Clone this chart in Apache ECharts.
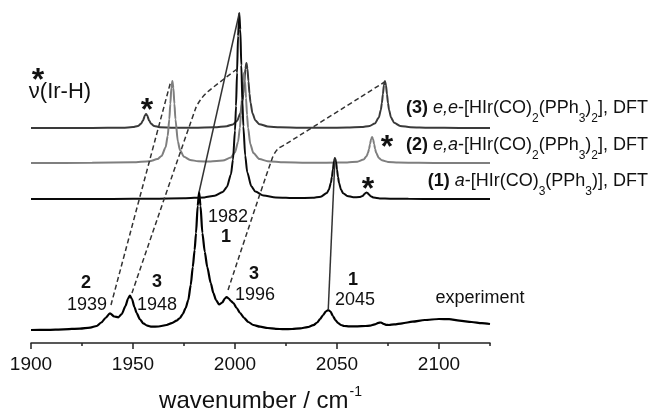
<!DOCTYPE html>
<html>
<head>
<meta charset="utf-8">
<script src="https://cdn.jsdelivr.net/npm/echarts@6/dist/echarts.min.js"></script>
<style>
  html, body { margin: 0; padding: 0; background: #fff; }
  #chart { width: 654px; height: 410px; }
</style>
</head>
<body>
<div id="chart"></div>
<script>
const FONT = '"Liberation Sans", Arial, sans-serif';

// IR traces: [wavenumber / cm-1, intensity above the trace's own baseline (arb. units)]
const experiment = [
  [1900,0],[1908,0.2],[1916,0.7],[1924,1.4],[1929,2.4],[1932.2,4],[1934.5,7.5],[1936.5,12],
  [1938.7,16.7],[1940.8,13.5],[1942.8,12.7],[1944.5,16],[1946.3,24],[1947.6,31.5],[1948.5,34.3],
  [1949.5,31],[1950.7,23],[1951.8,17],[1953.3,11],[1955,6.7],[1957,4.3],[1959.2,3.3],[1962.5,3.5],
  [1966.5,5],[1969,6.8],[1971.4,9.3],[1973,12],[1974.4,16],[1975.8,22],[1977.1,30],[1978.3,45],
  [1979.3,63],[1980.2,80],[1980.9,97],[1981.7,124],[1982.4,138],[1983.1,124],[1984.0,97],
  [1985.2,78],[1986.4,63],[1988.1,47],[1989.4,37],[1990.7,30],[1992.2,25.5],[1993.8,27.5],
  [1995.0,31.5],[1995.9,33],[1996.9,31.5],[1998,29],[1999.2,27],[2000.8,22],[2002.5,17],
  [2004.5,12],[2006.5,8],[2009,5],[2012.3,3.3],[2016,2],[2020,1.2],[2024,0.8],[2028,1],
  [2032,1.6],[2035.5,2.8],[2038.4,4.8],[2040.3,7.5],[2041.7,11],[2043.2,15],[2044.5,18.5],
  [2045.7,20],[2046.8,18.5],[2048,14],[2049.2,10],[2050.5,7],[2052,5],[2053.5,4],[2056,3.6],
  [2060,3.7],[2064,4],[2066.2,4.3],[2068.5,5.6],[2070.3,7.2],[2071.6,7.5],[2072.8,6.2],
  [2074,5.2],[2075.5,5],[2078,5.6],[2082,6.7],[2087,8.3],[2093,10],[2100,11],[2105,10.8],
  [2110,9.4],[2116,8],[2121,6.8],[2125,6]
];

// (1) a-[HIr(CO)3(PPh3)], DFT
const dft1 = [
  [1900,0],[1940,0.1],[1960,0.3],[1975,0.7],[1985,1.6],[1990,3.2],[1994,7.0],[1996,12.0],
  [1998,24.6],[1999,39.2],[2000,68.4],[2000.5,93],[2001,126.3],[2001.5,163.1],[2002.1,186],
  [2002.6,169.4],[2003.1,133.8],[2003.6,99.0],[2004.1,72.5],[2005,43.4],[2006,26.8],[2008,12.7],
  [2010,7.4],[2014,3.4],[2020,1.6],[2030,0.9],[2038,1.2],[2042,2.3],[2045,5.9],[2046,9.3],
  [2047,16.2],[2047.5,22.0],[2048,29.7],[2048.5,37.6],[2049,41],[2049.5,37.5],[2050,29.6],
  [2050.5,21.9],[2051,16.1],[2052,9.2],[2053,5.8],[2055,3.1],[2058,1.75],[2061,1.9],[2062.5,3.0],
  [2063.5,4.9],[2064,6.0],[2064.5,6.5],[2065,6.0],[2065.5,4.8],[2066.5,2.8],[2068,1.4],[2071,0.6],
  [2076,0.3],[2085,0.15],[2100,0.05],[2125,0]
];

// (2) e,a-[HIr(CO)2(PPh3)2], DFT
const dft2 = [
  [1900,0.05],[1930,0.15],[1950,0.65],[1958,1.7],[1962,3.9],[1964,7.0],[1966,15.8],[1967,26.9],
  [1967.8,43.8],[1968.3,59.2],[1968.8,74.9],[1969.3,82],[1969.8,74.9],[1970.3,59.2],[1970.8,43.8],
  [1972,21.5],[1973,13.1],[1975,6.2],[1978,3.0],[1982,1.75],[1988,1.45],[1994,2.4],[1998,5.55],
  [2000,10.7],[2001.5,21.2],[2002.4,35.3],[2002.9,48.1],[2003.4,64.9],[2003.9,82.2],[2004.4,90],
  [2004.9,82.2],[2005.4,64.9],[2005.9,48.1],[2006.4,35.3],[2007.5,19.1],[2009,9.9],[2012,4.0],
  [2016,1.8],[2024,0.75],[2035,0.36],[2045,0.3],[2055,0.55],[2060,1.3],[2063,3.4],[2064.5,6.8],
  [2065.2,10.2],[2065.7,13.9],[2066.2,18.8],[2066.7,23.8],[2067.2,26],[2067.7,23.8],[2068.2,18.8],
  [2068.7,13.9],[2069.2,10.2],[2070.5,5.0],[2072,2.65],[2075,1.1],[2080,0.45],[2090,0.16],
  [2105,0.07],[2125,0.04]
];

// (3) e,e-[HIr(CO)2(PPh3)2], DFT
const dft3 = [
  [1900,0.03],[1930,0.08],[1945,0.32],[1950,0.9],[1952.4,2.0],[1953.9,4.15],[1954.9,7.5],
  [1955.9,12.8],[1956.4,14],[1956.9,12.8],[1957.9,7.5],[1958.9,4.15],[1960.4,2.05],[1963,0.87],
  [1970,0.32],[1980,0.31],[1990,0.7],[1996,1.8],[1999,3.6],[2001,7.0],[2002.6,14.4],[2003.6,25.4],
  [2004.1,34.6],[2004.6,46.7],[2005.1,59.2],[2005.6,65],[2006.1,59.2],[2006.6,46.7],[2007.1,34.6],
  [2007.6,25.4],[2008.6,14.4],[2010,7.6],[2012,3.85],[2016,1.55],[2022,0.66],[2032,0.31],
  [2045,0.26],[2055,0.42],[2062,0.94],[2066,2.1],[2068.5,4.4],[2070.5,10.4],[2071.5,18.3],
  [2072,25.0],[2072.5,33.8],[2073,42.8],[2073.5,47],[2074,42.8],[2074.5,33.8],[2075,25.0],
  [2075.5,18.3],[2076.5,10.4],[2078,5.3],[2081,2.05],[2086,0.76],[2095,0.26],[2110,0.09],
  [2125,0.045]
];

// baseline level of each trace in the stacked plot
const offsets = { experiment: 13, dft1: 144, dft2: 180, dft3: 215 };

// assignment guides, waypoints as [wavenumber, stacked level]
const solidGuides = [
  [[1982.4, 151], [2002.1, 330]],
  [[2045.7, 33], [2049.0, 185]]
];
const dashedGuides = [
  [[1939.2, 38], [1968.3, 260]],
  [[1949.5, 50], [1980.6, 234], [1983.0, 243], [1986.5, 251], [2001.0, 274]],
  [[1996.6, 53], [2018.3, 185], [2021.0, 194], [2025.0, 199], [2073.3, 261]]
];

const majorTicks = [1900, 1950, 2000, 2050, 2100];
const minorTicks = [1925, 1975, 2025, 2075, 2125];

function stacked(trace, base) {
  return trace.map(p => [p[0], p[1] + base]);
}

function trace(name, data, base, color, width) {
  return {
    type: 'line', name, data: stacked(data, base),
    xAxisIndex: 0, yAxisIndex: 0,
    showSymbol: false, symbol: 'none', smooth: 0.25, smoothMonotone: 'x',
    lineStyle: { color, width }, z: 3, silent: true
  };
}

function guide(points, dashed) {
  return {
    type: 'line', data: points, xAxisIndex: 0, yAxisIndex: 0,
    showSymbol: false, symbol: 'none', smooth: dashed ? 0.3 : false,
    lineStyle: { color: '#333', width: 1.5, type: dashed ? [5, 3] : 'solid' },
    z: 4, silent: true
  };
}

const series = [
  trace('experiment', experiment, offsets.experiment, '#000', 2.2),
  trace('dft3', dft3, offsets.dft3, '#3a3a3a', 2),
  trace('dft2', dft2, offsets.dft2, '#7f7f7f', 2),
  trace('dft1', dft1, offsets.dft1, '#0a0a0a', 2),
  ...solidGuides.map(g => guide(g, false)),
  ...dashedGuides.map(g => guide(g, true))
];

const txt = (x, y, text, size, weight, align) => ({
  type: 'text', x, y, silent: true, z: 10,
  style: {
    text, fill: '#111', align: align || 'center', verticalAlign: 'middle',
    font: (weight || 'normal') + ' ' + size + 'px ' + FONT
  }
});
// asterisk glyph sits high in its em box, so the anchor is shifted down
const star = (x, y) => txt(x, y + 8, '*', 32, 'bold');

const richBase = {
  n: { fontFamily: FONT, fontSize: 18, color: '#111' },
  b: { fontFamily: FONT, fontSize: 18, fontWeight: 'bold', color: '#111' },
  i: { fontFamily: FONT, fontSize: 18, fontStyle: 'italic', color: '#111' },
  s: { fontFamily: FONT, fontSize: 12, color: '#111', padding: [22, 0, 0, 0] }
};
const richLabel = (y, text) => ({
  type: 'text', x: 648, y, silent: true, z: 10,
  style: { text, rich: richBase, align: 'right', verticalAlign: 'middle',
           font: '18px ' + FONT, fill: '#111' }
});

const graphics = [
  star(38, 73),
  txt(60, 92, 'ν(Ir-H)', 22),
  star(147, 103),
  star(387, 140),
  star(368, 182),
  richLabel(108, '{b|(3)}{n| }{i|e,e}{n|-[HIr(CO)}{s|2}{n|(PPh}{s|3}{n|)}{s|2}{n|], DFT}'),
  richLabel(145, '{b|(2)}{n| }{i|e,a}{n|-[HIr(CO)}{s|2}{n|(PPh}{s|3}{n|)}{s|2}{n|], DFT}'),
  richLabel(181, '{b|(1)}{n| }{i|a}{n|-[HIr(CO)}{s|3}{n|(PPh}{s|3}{n|)], DFT}'),
  txt(86, 283, '2', 18, 'bold'),
  txt(87, 305, '1939', 18),
  txt(157, 282, '3', 18, 'bold'),
  txt(157, 305, '1948', 18),
  txt(228, 217, '1982', 18),
  txt(226, 237, '1', 18, 'bold'),
  txt(254, 274, '3', 18, 'bold'),
  txt(255, 295, '1996', 18),
  txt(353, 280, '1', 18, 'bold'),
  txt(355, 300, '2045', 18),
  txt(480, 298, 'experiment', 18)
];

const chart = echarts.init(document.getElementById('chart'), null, { renderer: 'canvas' });
chart.setOption({
  animation: false,
  backgroundColor: '#fff',
  grid: { left: 31, top: 3, width: 459, height: 340, outerBoundsMode: 'none', containLabel: false },
  xAxis: [
    {
      type: 'value', min: 1900, max: 2125, position: 'bottom',
      name: '{t|wavenumber / cm}{p|-1}', nameLocation: 'middle', nameGap: 42,
      nameTextStyle: {
        rich: {
          t: { fontFamily: FONT, fontSize: 24, color: '#111' },
          p: { fontFamily: FONT, fontSize: 14, color: '#111', padding: [0, 0, 18, 1] }
        }
      },
      axisLine: { show: true, onZero: false, lineStyle: { color: '#222', width: 1.5 } },
      axisTick: { show: true, inside: false, length: 6, customValues: majorTicks,
                  lineStyle: { color: '#222', width: 1.5 } },
      axisLabel: { show: true, customValues: majorTicks, margin: 12, color: '#111',
                   fontFamily: FONT, fontSize: 19, formatter: v => String(v) },
      splitLine: { show: false }
    },
    {
      type: 'value', min: 1900, max: 2125, position: 'bottom',
      axisLine: { show: false },
      axisTick: { show: true, inside: false, length: 3, customValues: minorTicks,
                  lineStyle: { color: '#222', width: 1.5 } },
      axisLabel: { show: false },
      splitLine: { show: false }
    }
  ],
  yAxis: { type: 'value', min: 0, max: 340, show: false, splitLine: { show: false } },
  series,
  graphic: graphics
});
</script>
</body>
</html>
